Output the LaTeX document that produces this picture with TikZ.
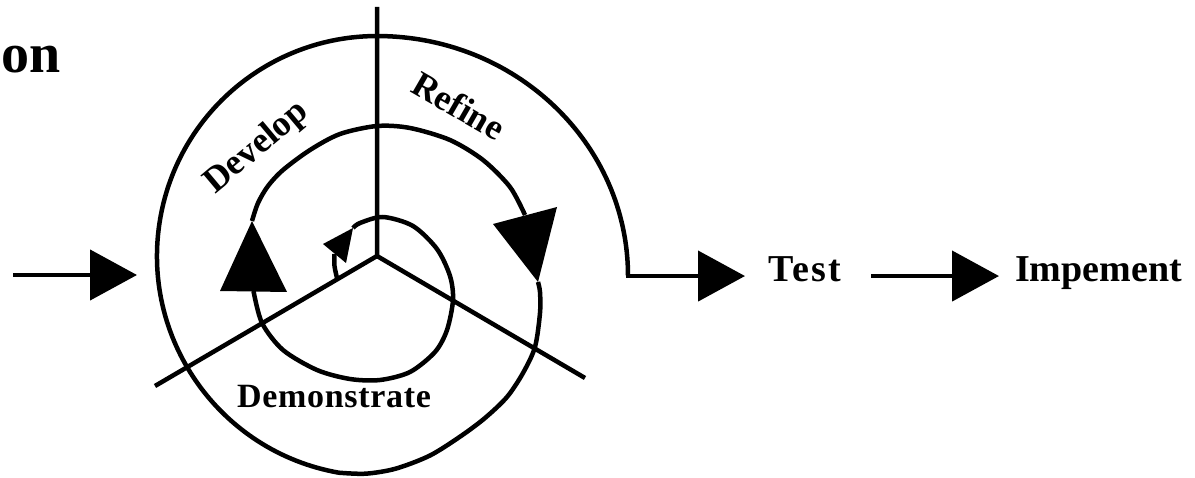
\documentclass[tikz,border=0pt]{standalone}
\usepackage{fontspec}
\setmainfont{Liberation Serif}
\usetikzlibrary{arrows.meta}
\begin{document}
\begin{tikzpicture}[x=1pt,y=-1pt,
  curve/.style={line width=4.5pt, line join=round},
  arr/.style={line width=4.5pt, -{Triangle[length=47pt,width=50pt]}},
  lbl/.style={inner sep=0pt, font=\bfseries\fontsize{38}{40}\selectfont},
  stage/.style={inner sep=0pt, font=\bfseries\fontsize{36}{38}\selectfont},
  ]
\useasboundingbox (0,0) rectangle (1195,478);
% radial lines
\coordinate (hub) at (377,256);
\coordinate (rayN) at (377,7);
\coordinate (rayW) at (155,386);
\coordinate (rayE) at (585,378);
\draw[curve] (rayN) -- (hub) -- (rayW);
\draw[curve] (hub) -- (rayE);
% spiral
\draw[curve] plot[smooth] coordinates {(337,278) (334.5,266) (334.5,254)};
\draw[curve] plot[smooth] coordinates {(353,228) (360,223) (383,217) (413,226) (437,249) (450,276) (453,300) (447,330) (435,352) (410,372) (380,380) (350,379) (317,370) (283,350) (262,323) (253.5,291)};
\draw[curve] plot[smooth] coordinates {(252,221) (258,203) (268,186) (283,170) (310,150) (340,134) (377,126) (410,128) (450,140) (483,160) (510,187) (525,215)};
\draw[curve] plot[smooth] coordinates {(538,282) (540,292) (540,313) (535,347) (523,373) (507,397) (485,418) (461,436) (430,455.5) (395.6,468.7) (365.6,473.7) (338.8,472.7)}
  arc[start angle=100, end angle=270, radius=220]
  arc[start angle=270, end angle=360, x radius=251, y radius=240] coordinate (spiralEnd);
% arrowheads on the spiral
\fill (323,244) -- (353,228) -- (346,263) -- cycle;
\fill (220,291) -- (252,221) -- (287,292) -- cycle;
\fill (493,224) -- (557,207) -- (538,282) -- cycle;
% texts
\node[inner sep=0pt, anchor=base west, font=\bfseries\fontsize{56}{58}\selectfont] (title) at (1,73) {on};
\node[lbl, anchor=base west, font=\bfseries\fontsize{38}{40}\selectfont\addfontfeature{LetterSpace=6}] (Test) at (768,282) {Test};
\node[lbl, anchor=base west] (Impement) at (1015,282) {Impement};
\node[stage, anchor=base west, font=\bfseries\fontsize{34}{36}\selectfont\addfontfeature{LetterSpace=2}] (demo) at (237,408) {Demonstrate};
\node[stage, rotate=40] (dev) at (257,148) {Develop};
\node[stage, rotate=-30] (ref) at (459,106) {Refine};
% straight arrows
\coordinate (inStart) at (13,275);
\coordinate (inEnd) at (137,275);
\draw[arr] (inStart) -- (inEnd);
\draw[arr, shorten >=23pt] ([xshift=-2.25pt]spiralEnd) -- (spiralEnd -| Test.west);
\draw[arr, shorten <=30pt, shorten >=16pt] (Test.east |- spiralEnd) -- (Impement.west |- spiralEnd);
\end{tikzpicture}
\end{document}
